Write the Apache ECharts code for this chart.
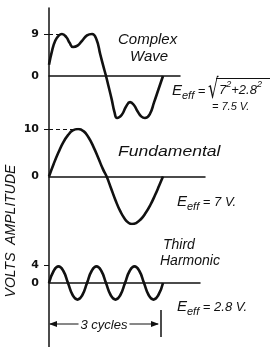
<!DOCTYPE html>
<html>
<head>
<meta charset="utf-8">
<script src="https://cdn.jsdelivr.net/npm/echarts@6/dist/echarts.min.js"></script>
<style>
html,body{margin:0;padding:0;background:#fff;}
#main{width:272px;height:347px;}
</style>
</head>
<body>
<div id="main"></div>
<script>
// phase (degrees along one fundamental cycle) and volts
var complexDeg   = [0,10,20,30,41,55,65,76,90,105,120,136,150,162,172,180,188,198,207,215,230,243,256,268,280,292,303,318,332,345,360];
var complexVolts = [2.4,5.5,7.6,8.6,9,8.3,7.1,6.2,6.5,7.6,8.7,9,7.8,4.6,2,0,-2.2,-5,-7.8,-9,-8.3,-6.6,-5.6,-6.2,-7.6,-8.7,-9,-8.2,-5.6,-3,0];

var fundDeg   = [0,15,30,45,60,75,92,110,125,140,155,170,182,195,210,225,240,252,262,275,290,305,320,335,348,360];
var fundVolts = [0,2.7,5.1,7.2,8.7,9.7,10,9.5,8.2,6.3,4,1.6,0,-2.3,-5,-7.3,-9,-9.8,-10,-9.8,-9,-7.7,-6,-3.9,-1.9,0];

var thirdDeg   = [0,15,30,45,60,75,90,105,120,135,150,165,180,195,210,225,240,255,270,285,300,315,330,345,360];
var thirdVolts = [0,2.8,3.8,2.8,0,-2.8,-3.8,-2.8,0,2.8,3.8,2.8,0,-2.8,-3.8,-2.8,0,2.8,3.8,2.8,0,-2.8,-3.8,-2.8,0];

var complexTicks = [0, 9];
var fundTicks = [0, 10];
var thirdTicks = [0, 4];

var cyclePx = 114;     // width of one fundamental cycle on the page
var axisLeft = 49;
var ink = '#111';
var hand = '"Liberation Sans", "DejaVu Sans", sans-serif';

var panels = [
  {top: 29.3, height: 93.4, min: -10, max: 10, width: 131, deg: complexDeg, volts: complexVolts, ticks: complexTicks, dash: [0, 41]},
  {top: 129,  height: 95,   min: -10, max: 10, width: 156, deg: fundDeg,    volts: fundVolts,    ticks: fundTicks,    dash: [0, 92]},
  {top: 265.5,height: 35,   min: -4,  max: 4,  width: 151, deg: thirdDeg,   volts: thirdVolts,   ticks: thirdTicks,   dash: null}
];

function pairs(xs, ys){
  var out = [];
  for (var i = 0; i < xs.length; i++) out.push([xs[i], ys[i]]);
  return out;
}

var grids = [], xAxes = [], yAxes = [], series = [];
panels.forEach(function(p, i){
  grids.push({left: axisLeft, top: p.top, width: p.width, height: p.height});
  xAxes.push({
    gridIndex: i, type: 'value', min: 0, max: p.width * 360 / cyclePx,
    axisLine: {show: true, onZero: true, lineStyle: {color: ink, width: 1.5}},
    axisTick: {show: false}, axisLabel: {show: false}, splitLine: {show: false}
  });
  var peak = p.ticks[p.ticks.length - 1];
  yAxes.push({
    gridIndex: i, type: 'value', min: p.min, max: p.max,
    axisLine: {show: false},
    axisTick: {show: true, length: 5, customValues: [peak], lineStyle: {color: ink, width: 1}},
    axisLabel: {show: true, customValues: p.ticks, margin: 10, color: ink,
                fontFamily: '"DejaVu Sans", sans-serif', fontWeight: 'bold', fontSize: 11},
    splitLine: {show: false}
  });
  var s = {
    type: 'line', xAxisIndex: i, yAxisIndex: i, smooth: true, showSymbol: false,
    lineStyle: {color: ink, width: 2.6}, data: pairs(p.deg, p.volts), silent: true
  };
  if (p.dash) {
    s.markLine = {
      silent: true, symbol: 'none', label: {show: false},
      lineStyle: {color: ink, type: [4, 3], width: 1},
      data: [[{coord: [p.dash[0], peak]}, {coord: [p.dash[1], peak]}]]
    };
  }
  series.push(s);
});

// long common volts axis down the left side
grids.push({left: axisLeft, top: 8, bottom: 0, width: 10});
xAxes.push({gridIndex: 3, type: 'value', show: false});
yAxes.push({gridIndex: 3, type: 'value', min: 0, max: 1,
  axisLine: {show: true, lineStyle: {color: ink, width: 1.5}},
  axisTick: {show: false}, axisLabel: {show: false}, splitLine: {show: false}});

function txt(x, y, s, font, extra){
  var o = {type: 'text', x: x, y: y, silent: true,
    style: {text: s, font: font, fill: ink,
            align: 'left', verticalAlign: 'middle', textAlign: 'left', textVerticalAlign: 'middle'}};
  if (extra) for (var k in extra) o[k] = extra[k];
  return o;
}

var eRich = {
  e: {font: 'italic 15px ' + hand, fill: ink, verticalAlign: 'middle', lineHeight: 20},
  s: {font: 'italic 11px ' + hand, fill: ink, verticalAlign: 'bottom', lineHeight: 20},
  m: {font: 'italic 13px ' + hand, fill: ink, verticalAlign: 'middle', lineHeight: 20},
  p: {font: 'italic 9px ' + hand, fill: ink, verticalAlign: 'top', lineHeight: 20}
};
function eff(x, y, s){
  return {type: 'text', x: x, y: y, silent: true,
    style: {text: s, rich: eRich, fill: ink, align: 'left', verticalAlign: 'middle', textAlign: 'left', textVerticalAlign: 'middle'}};
}

var graphics = [
  txt(118, 40, 'Complex', 'italic 15px ' + hand),
  txt(130, 57, 'Wave', 'italic 15px ' + hand),
  eff(172, 91, '{e|E}{s|eff}{m| =}'),
  txt(208, 91, '√', '22px "DejaVu Sans", sans-serif', {scaleX: 0.75, scaleY: 1.25}),
  {type: 'line', silent: true, shape: {x1: 216, y1: 78.5, x2: 270, y2: 78.5}, style: {stroke: ink, lineWidth: 1.2}},
  eff(219, 90, '{m|7}{p|2}{m|+2.8}{p|2}'),
  txt(212, 107, '= 7.5 V.', 'italic 11px ' + hand),
  txt(118, 152, 'Fundamental', 'italic 15px ' + hand, {scaleX: 1.17}),
  eff(177, 202, '{e|E}{s|eff}{m| = 7 V.}'),
  txt(163, 245, 'Third', 'italic 14px ' + hand),
  txt(160, 261, 'Harmonic', 'italic 14px ' + hand),
  eff(177, 307, '{e|E}{s|eff}{m| = 2.8 V.}'),
  // 3 cycles dimension
  {type: 'line', silent: true, shape: {x1: 50, y1: 324, x2: 158, y2: 324}, style: {stroke: ink, lineWidth: 1}},
  {type: 'polygon', silent: true, shape: {points: [[49, 324], [57, 321], [57, 327]]}, style: {fill: ink}},
  {type: 'polygon', silent: true, shape: {points: [[159, 324], [151, 321], [151, 327]]}, style: {fill: ink}},
  {type: 'line', silent: true, shape: {x1: 161, y1: 310, x2: 161, y2: 337}, style: {stroke: ink, lineWidth: 1.5}},
  {type: 'text', x: 104, y: 325, silent: true, style: {text: '3 cycles', font: 'italic 13px ' + hand, fill: ink,
    backgroundColor: '#fff', padding: [0, 2], align: 'center', verticalAlign: 'middle', textAlign: 'center', textVerticalAlign: 'middle'}},
  {type: 'text', x: 11, y: 231, rotation: Math.PI / 2, silent: true, style: {text: 'VOLTS  AMPLITUDE', font: 'italic 14px ' + hand, fill: ink,
    align: 'center', verticalAlign: 'middle', textAlign: 'center', textVerticalAlign: 'middle'}}
];

var chart = echarts.init(document.getElementById('main'), null, {renderer: 'canvas'});
chart.setOption({
  animation: false,
  backgroundColor: '#fff',
  grid: grids,
  xAxis: xAxes,
  yAxis: yAxes,
  series: series,
  graphic: graphics
});
</script>
</body>
</html>
